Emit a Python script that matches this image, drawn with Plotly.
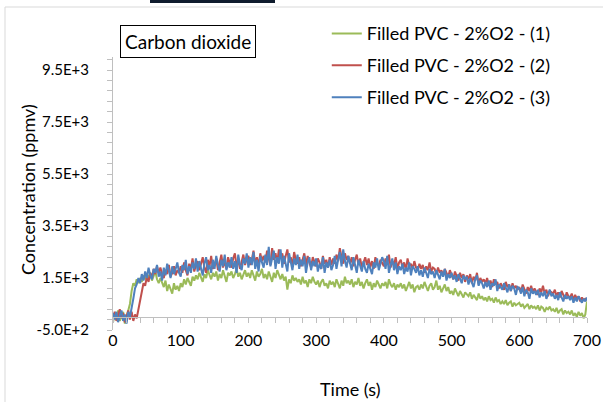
import plotly.graph_objects as go

time_s = [i * 2.5 for i in range(281)]

co2_run1 = [
    -200, 100, -100, 250, -150, 50, 200, -250, 0, 150,
    500, 1000, 1300, 1200, 1450, 1300, 1500, 1350, 1600, 1450,
    1650, 1500, 1700, 1400, 1600, 1750, 1450, 1300, 1500, 1350,
    1150, 1400, 1000, 1250, 1100, 900, 1300, 1050, 1200, 1000,
    1300, 1150, 1450, 1250, 1500, 1350, 1200, 1550, 1400, 1600,
    1450, 1700, 1550, 1350, 1650, 1500, 1800, 1600, 1450, 1700,
    1550, 1750, 1400, 1650, 1500, 1800, 1550, 1350, 1700, 1600,
    1750, 1500, 1650, 1850, 1550, 1700, 1450, 1650, 1800, 1550,
    1700, 1500, 1800, 1600, 1400, 1750, 1550, 1650, 1850, 1500,
    1650, 1450, 1750, 1550, 1350, 1700, 1500, 1800, 1600, 1450,
    1650, 1400, 1550, 1050, 1450, 1300, 1600, 1400, 1500, 1350,
    1450, 1250, 1550, 1300, 1400, 1150, 1450, 1300, 1550, 1350,
    1250, 1400, 1150, 1350, 1450, 1200, 1300, 1100, 1400, 1250,
    1350, 1150, 1450, 1250, 1100, 1400, 1200, 1550, 1300, 1400,
    1250, 1450, 1150, 1350, 1250, 1500, 1200, 1350, 1100, 1300,
    1450, 1200, 1350, 1050, 1300, 1150, 1400, 1250, 1100, 1300,
    1200, 1350, 1100, 1450, 1250, 1150, 1300, 1050, 1250, 1150,
    1300, 1100, 1250, 1000, 1200, 1350, 1100, 1250, 950, 1150,
    1200, 1050, 1250, 1100, 1350, 1150, 1000, 1200, 1300, 1050,
    1150, 1400, 1050, 1200, 950, 1100, 1250, 1000, 1150, 900,
    1000, 850, 1100, 950, 800, 1000, 900, 750, 950, 850,
    800, 950, 700, 850, 750, 650, 900, 700, 800, 650,
    750, 600, 800, 650, 700, 550, 750, 600, 650, 500,
    600, 500, 650, 450, 550, 600, 400, 550, 450, 500,
    550, 400, 500, 350, 450, 500, 300, 450, 350, 400,
    300, 450, 250, 400, 350, 200, 350, 300, 400, 250,
    300, 200, 350, 150, 250, 300, 100, 250, 150, 200,
    100, 250, 50, 150, 0, 200, 50, 150, -50, 100,
    600,
]

co2_run2 = [
    -100, 200, -150, 100, 300, -50, 150, -200, 50, 250,
    -100, 200, -150, 100, -50, 300, 700, 1100, 1300, 1200,
    1550, 1350, 1700, 1500, 1850, 1650, 1950, 1700, 1900, 1650,
    1500, 1800, 1650, 2000, 1550, 1700, 1950, 1600, 1800, 1700,
    1950, 1700, 2100, 1800, 1600, 2050, 1850, 2250, 1750, 2000,
    2150, 1800, 2050, 2300, 1900, 1700, 2200, 1950, 2350, 1850,
    2000, 2250, 1800, 2100, 2400, 1900, 2150, 1850, 2300, 2050,
    1900, 2250, 2450, 1950, 2200, 1850, 2100, 2400, 2000, 2250,
    2350, 2000, 2200, 2550, 2050, 2300, 1950, 2450, 2150, 2350,
    2100, 2550, 2250, 2000, 2650, 2200, 2450, 2100, 2600, 2300,
    2450, 2050, 2350, 2600, 2100, 2300, 1950, 2500, 2200, 2050,
    2300, 1950, 2200, 2450, 2000, 2350, 2100, 1900, 2300, 2150,
    1950, 2250, 2100, 1850, 2350, 2050, 2200, 1900, 2300, 2000,
    2250, 2050, 2400, 2150, 2650, 2300, 2050, 2450, 2200, 2350,
    2050, 2300, 1950, 2200, 2400, 2000, 2250, 1900, 2150, 2300,
    2000, 2250, 1900, 2150, 1850, 2300, 2050, 1950, 2200, 2100,
    1950, 2250, 2050, 2400, 1900, 2150, 2000, 2300, 1850, 2100,
    2200, 1900, 2100, 1800, 2250, 1950, 2050, 1850, 2150, 1900,
    1800, 2050, 1850, 2000, 1700, 1950, 1800, 2100, 1750, 1900,
    1850, 1650, 1900, 1700, 1800, 1600, 1850, 1700, 1550, 1800,
    1650, 1450, 1750, 1550, 1400, 1700, 1500, 1650, 1350, 1600,
    1450, 1650, 1300, 1550, 1400, 1700, 1250, 1500, 1350, 1450,
    1300, 1500, 1200, 1400, 1150, 1450, 1250, 1350, 1100, 1300,
    1200, 1050, 1350, 1150, 1250, 1000, 1300, 1100, 1200, 1050,
    1150, 950, 1250, 1050, 900, 1150, 1000, 1200, 950, 1100,
    1000, 850, 1100, 950, 1200, 900, 1050, 800, 1000, 950,
    900, 1050, 800, 950, 750, 1000, 850, 700, 950, 800,
    750, 900, 650, 850, 700, 800, 600, 750, 650, 700,
    650,
]

co2_run3 = [
    150, -100, 200, -200, 50, 250, -150, 100, -250, 200,
    0, 300, 700, 1100, 1250, 1500, 1300, 1650, 1400, 1750,
    1500, 1900, 1600, 1450, 1850, 1700, 2000, 1550, 1750, 1400,
    1900, 1600, 2050, 1800, 1500, 1950, 1650, 1850, 2100, 1700,
    1550, 2000, 1800, 2200, 1650, 1950, 1700, 2100, 1850, 2250,
    1750, 2150, 1900, 1600, 2050, 2300, 1800, 2000, 1700, 2200,
    1850, 2350, 2000, 1750, 2200, 1950, 2400, 1800, 2100, 1900,
    2300, 1850, 2150, 1700, 2400, 2000, 1800, 2250, 2050, 2450,
    1900, 2300, 2000, 2500, 1850, 2200, 1750, 2350, 2100, 1900,
    2400, 2000, 2700, 1950, 2250, 2550, 1850, 2300, 2050, 2600,
    1900, 2350, 2050, 1750, 2450, 2150, 1800, 2250, 2000, 2400,
    1850, 2200, 1950, 2350, 1700, 2100, 2300, 1800, 2150, 1950,
    2250, 1750, 2050, 1850, 2300, 1700, 2100, 1900, 2200, 1800,
    2000, 2350, 1850, 2200, 2500, 1950, 2600, 2150, 1900, 2350,
    2100, 1800, 2300, 1950, 1700, 2200, 2000, 1750, 2150, 1850,
    1700, 2050, 1850, 1650, 2100, 1900, 2250, 1800, 2050, 2300,
    2150, 1850, 2350, 1700, 2000, 2250, 1800, 2100, 1650, 1950,
    1800, 2050, 1650, 1900, 1750, 2100, 1600, 1950, 1850, 1700,
    1950, 1600, 1800, 1550, 1900, 1700, 1500, 1850, 1650, 1750,
    1500, 1800, 1600, 1450, 1750, 1550, 1850, 1400, 1650, 1500,
    1700, 1450, 1600, 1350, 1650, 1500, 1300, 1600, 1450, 1550,
    1250, 1500, 1350, 1150, 1450, 1600, 1200, 1400, 1300, 1100,
    1350, 1150, 1400, 1050, 1300, 1200, 1450, 1000, 1250, 1150,
    1050, 1300, 1100, 950, 1250, 1000, 1200, 1100, 850, 1150,
    1100, 900, 1150, 800, 1050, 950, 700, 1100, 900, 1000,
    850, 1050, 750, 950, 800, 1000, 700, 900, 1050, 800,
    900, 700, 850, 650, 950, 750, 600, 850, 700, 800,
    650, 800, 550, 750, 600, 800, 650, 550, 700, 600,
    750,
]

series_names = ["Filled PVC - 2%O2 - (1)", "Filled PVC - 2%O2 - (2)", "Filled PVC - 2%O2 - (3)"]
series_colors = ["#9BBB59", "#C0504D", "#4F81BD"]

y_tickvals = [-500, 1500, 3500, 5500, 7500, 9500]
y_ticktext = ["-5.0E+2", "1.5E+3", "3.5E+3", "5.5E+3", "7.5E+3", "9.5E+3"]
x_tickvals = [0, 100, 200, 300, 400, 500, 600, 700]

FONT = "Lato"
AXIS_GRAY = "#BFBFBF"
TEXT = "#000000"

# plot area in pixels (figure is 603 x 402)
L, R, T, B = 113, 587, 57, 330
PW, PH = R - L, B - T


def px(x):
    return (x - L) / PW


def py(y):
    return (B - y) / PH


fig = go.Figure()
for i, (vals, name, col) in enumerate(zip([co2_run1, co2_run2, co2_run3], series_names, series_colors)):
    fig.add_trace(go.Scatter(
        x=time_s, y=vals, mode="lines", name=name,
        line=dict(color=col, width=2),
        legendgroup=f"g{i}",
    ))

y_lo, y_hi = -500, 10000
x_cross = (0 - y_lo) / (y_hi - y_lo)

fig.update_layout(
    width=603, height=402,
    margin=dict(l=L, r=603 - R, t=T, b=402 - B, autoexpand=False),
    paper_bgcolor="white", plot_bgcolor="white",
    font=dict(family=FONT, color=TEXT),
    showlegend=True,
    legend=dict(
        x=0.451, y=1.153, xanchor="left", yanchor="top",
        font=dict(family=FONT, size=18, color=TEXT),
        bgcolor="rgba(0,0,0,0)", borderwidth=0,
        tracegroupgap=5.5,
    ),
    xaxis=dict(
        range=[0, 700], tickvals=x_tickvals,
        anchor="free", position=x_cross, automargin=False,
        showline=True, linecolor=AXIS_GRAY, linewidth=1,
        ticks="outside", ticklen=5, tickcolor=AXIS_GRAY,
        minor=dict(dtick=20, tick0=0, ticks="outside", ticklen=5, tickcolor=AXIS_GRAY),
        showgrid=False, zeroline=False,
        tickfont=dict(family=FONT, size=16, color=TEXT),
        ticklabelstandoff=4,
    ),
    yaxis=dict(
        range=[y_lo, y_hi], tickvals=y_tickvals, ticktext=y_ticktext,
        automargin=False,
        showline=True, linecolor=AXIS_GRAY, linewidth=1,
        ticks="outside", ticklen=5, tickcolor=AXIS_GRAY,
        minor=dict(dtick=400, tick0=-500, ticks="outside", ticklen=5, tickcolor=AXIS_GRAY),
        showgrid=False, zeroline=False,
        tickfont=dict(family=FONT, size=15, color=TEXT),
        ticklabelstandoff=15,
    ),
    annotations=[
        dict(text="Carbon dioxide", xref="paper", yref="paper",
             x=px(188), y=py(42), xanchor="center", yanchor="middle",
             showarrow=False, font=dict(family=FONT, size=19, color=TEXT),
             bordercolor="#000000", borderwidth=1, borderpad=4, bgcolor="white"),
        dict(text="Concentration (ppmv)", xref="paper", yref="paper",
             x=px(28), y=py(190), xanchor="center", yanchor="middle",
             textangle=-90, showarrow=False,
             font=dict(family=FONT, size=18, color=TEXT)),
        dict(text="Time (s)", xref="paper", yref="paper",
             x=px(350), y=py(389), xanchor="center", yanchor="middle",
             showarrow=False, font=dict(family=FONT, size=18, color=TEXT)),
    ],
    shapes=[
        dict(type="line", xref="paper", yref="paper",
             x0=px(5), x1=px(603), y0=py(7), y1=py(7),
             line=dict(color="#D9D9D9", width=1)),
        dict(type="line", xref="paper", yref="paper",
             x0=px(5), x1=px(5), y0=py(7), y1=py(402),
             line=dict(color="#D9D9D9", width=1)),
        dict(type="rect", xref="paper", yref="paper",
             x0=px(150), x1=px(275), y0=py(0), y1=py(3),
             line=dict(width=0), fillcolor="#0F1B2D"),
    ],
)

fig.write_html(
    "out.html",
    config={"displayModeBar": False},
    post_script="document.body.style.margin='0';document.body.style.overflow='hidden';",
)
